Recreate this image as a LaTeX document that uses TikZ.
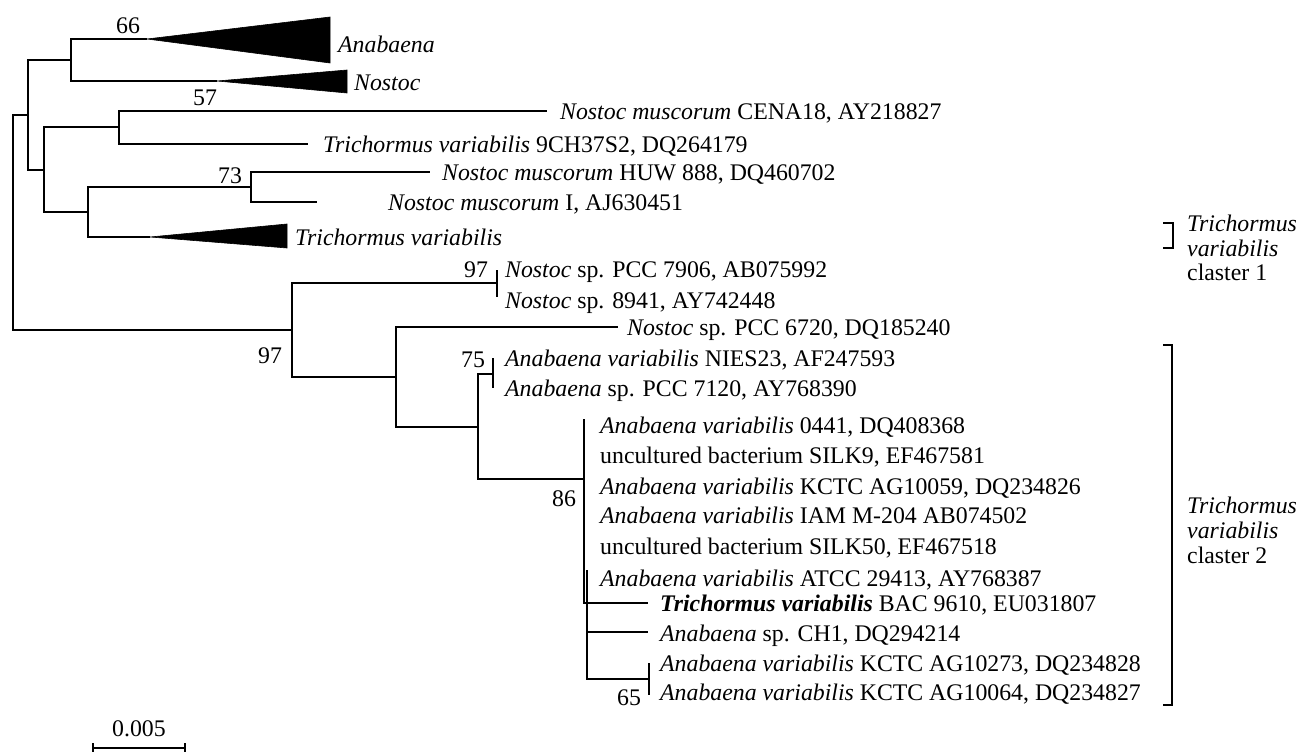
\documentclass[tikz,border=0pt]{standalone}
\usepackage{fontspec}
\setmainfont{Liberation Serif}
\begin{document}
\begin{tikzpicture}[x=1pt,y=-1pt,
  br/.style={line width=1.8pt},
  tri/.style={fill=black,draw=black,line width=0.6pt,line join=miter},
  tip/.style={anchor=base west,inner sep=0pt,font=\fontsize{23.8}{28}\selectfont},
  boot/.style={anchor=base,inner sep=0pt,font=\fontsize{23.8}{28}\selectfont},
  brk/.style={line width=1.8pt,line join=miter}]
\useasboundingbox (0,0) rectangle (1299,752);
% internal nodes
\coordinate (R) at (13,222);
\coordinate (A) at (28,115);
\coordinate (B) at (71,60);
\coordinate (C) at (44,170);
\coordinate (D) at (119,127);
\coordinate (F) at (88,212);
\coordinate (E) at (251,187);
\coordinate (G) at (292,330);
\coordinate (H) at (497,283);
\coordinate (I) at (396,377);
\coordinate (K) at (478,427);
\coordinate (L) at (493,374);
\coordinate (M) at (584,479);
\coordinate (Mt) at (584,419);
\coordinate (Mb) at (584,603);
\coordinate (Nt) at (587,570);
\coordinate (Nc) at (587,632);
\coordinate (Nb) at (587,679);
\coordinate (O) at (649,679);
% branch ends
\coordinate (t1a) at (147,39);
\coordinate (t2a) at (217,81);
\coordinate (t3a) at (150,237);
\coordinate (cena) at (547,111);
\coordinate (ch37) at (308,144);
\coordinate (huw) at (430,172);
\coordinate (mI) at (317,202);
\coordinate (h1) at (497,270);
\coordinate (h2) at (497,297);
\coordinate (p6720) at (618,327);
\coordinate (l1) at (493,358);
\coordinate (l2) at (493,388);
\coordinate (bac) at (648,603);
\coordinate (ch1) at (648,632);
\coordinate (o1) at (649,663);
\coordinate (o2) at (649,695);
% triangle corners
\coordinate (t1u) at (330,17); \coordinate (t1d) at (330,63);
\coordinate (t2u) at (347,70); \coordinate (t2d) at (347,93);
\coordinate (t3u) at (287,224); \coordinate (t3d) at (287,248);
% branches
\draw[br] (R) |- (A); \draw[br] (R) |- (G);
\draw[br] (A) |- (B); \draw[br] (A) |- (C);
\draw[br] (B) |- (t1a); \draw[br] (B) |- (t2a);
\draw[br] (C) |- (D); \draw[br] (C) |- (F);
\draw[br] (D) |- (cena); \draw[br] (D) |- (ch37);
\draw[br] (F) |- (E); \draw[br] (F) |- (t3a);
\draw[br] (E) |- (huw); \draw[br] (E) |- (mI);
\draw[br] (G) |- (H); \draw[br] (G) |- (I);
\draw[br] (H) |- (h1); \draw[br] (H) |- (h2);
\draw[br] (I) |- (p6720); \draw[br] (I) |- (K);
\draw[br] (K) |- (L); \draw[br] (K) |- (M);
\draw[br] (L) |- (l1); \draw[br] (L) |- (l2);
\draw[br] (Mt) -- (Mb) -- (bac);
\draw[br] (Nt) -- (Nb) -- (O);
\draw[br] (Nc) -- (ch1);
\draw[br] (O) |- (o1); \draw[br] (O) |- (o2);
% collapsed clades
\draw[tri] (t1a) -- (t1u) -- (t1d) -- cycle;
\draw[tri] (t2a) -- (t2u) -- (t2d) -- cycle;
\draw[tri] (t3a) -- (t3u) -- (t3d) -- cycle;
% tip labels
\node[tip] (nAna) at (338,53) {\textit{Anabaena}};
\node[tip] (nNos) at (354,91) {\textit{Nostoc}};
\node[tip] (nCena) at (560,119) {\textit{Nostoc muscorum} CENA18, AY218827};
\node[tip] (nCh37) at (323,152) {\textit{Trichormus variabilis} 9CH37S2, DQ264179};
\node[tip] (nHuw) at (442,180) {\textit{Nostoc muscorum} HUW 888, DQ460702};
\node[tip] (nMI) at (388,210) {\textit{Nostoc muscorum} I, AJ630451};
\node[tip] (nTv) at (295,245) {\textit{Trichormus variabilis}};
\node[tip] (n7906) at (505,277) {\textit{Nostoc} sp. PCC 7906, AB075992};
\node[tip] (n8941) at (505,308) {\textit{Nostoc} sp. 8941, AY742448};
\node[tip] (n6720) at (627,335) {\textit{Nostoc} sp. PCC 6720, DQ185240};
\node[tip] (nNies) at (505,366) {\textit{Anabaena variabilis} NIES23, AF247593};
\node[tip] (n7120) at (505,396) {\textit{Anabaena} sp. PCC 7120, AY768390};
\node[tip] (n0441) at (600,433) {\textit{Anabaena variabilis} 0441, DQ408368};
\node[tip] (nSilk9) at (600,463) {uncultured bacterium SILK9, EF467581};
\node[tip] (n10059) at (600,494) {\textit{Anabaena variabilis} KCTC AG10059, DQ234826};
\node[tip] (nIam) at (600,523) {\textit{Anabaena variabilis} IAM M-204 AB074502};
\node[tip] (nSilk50) at (600,554) {uncultured bacterium SILK50, EF467518};
\node[tip] (nAtcc) at (600,586) {\textit{Anabaena variabilis} ATCC 29413, AY768387};
\node[tip] (nBac) at (660,611) {\textbf{\textit{Trichormus variabilis}} BAC 9610, EU031807};
\node[tip] (nCh1) at (660,641) {\textit{Anabaena} sp. CH1, DQ294214};
\node[tip] (n10273) at (660,671) {\textit{Anabaena variabilis} KCTC AG10273, DQ234828};
\node[tip] (n10064) at (660,700) {\textit{Anabaena variabilis} KCTC AG10064, DQ234827};
% bootstrap values
\node[boot] (b66) at (128,34) {66};
\node[boot] (b57) at (205,105) {57};
\node[boot] (b73) at (230,183) {73};
\node[boot] (b97a) at (476,277) {97};
\node[boot] (b97b) at (270,363) {97};
\node[boot] (b75) at (473,367) {75};
\node[boot] (b86) at (564,506) {86};
\node[boot] (b65) at (629,705) {65};
% cluster brackets
\coordinate (c1a) at (1163,223); \coordinate (c1b) at (1173,223);
\coordinate (c1c) at (1173,248); \coordinate (c1d) at (1163,248);
\draw[brk] (c1a) -- (c1b) -- (c1c) -- (c1d);
\coordinate (c2a) at (1163,345); \coordinate (c2b) at (1172,345);
\coordinate (c2c) at (1172,705); \coordinate (c2d) at (1163,705);
\draw[brk] (c2a) -- (c2b) -- (c2c) -- (c2d);
\node[tip] (k1a) at (1187,231) {\textit{Trichormus}};
\node[tip] (k1b) at (1187,256) {\textit{variabilis}};
\node[tip] (k1c) at (1187,280) {claster 1};
\node[tip] (k2a) at (1187,513) {\textit{Trichormus}};
\node[tip] (k2b) at (1187,538) {\textit{variabilis}};
\node[tip] (k2c) at (1187,563) {claster 2};
% scale bar
\coordinate (s1) at (93,748); \coordinate (s2) at (185,748);
\draw[br] (s1) -- (s2);
\draw[br] ([yshift=-5pt]s1) -- ([yshift=5pt]s1);
\draw[br] ([yshift=-5pt]s2) -- ([yshift=5pt]s2);
\node[boot] (sl) at (139,736) {0.005};
\end{tikzpicture}
\end{document}
